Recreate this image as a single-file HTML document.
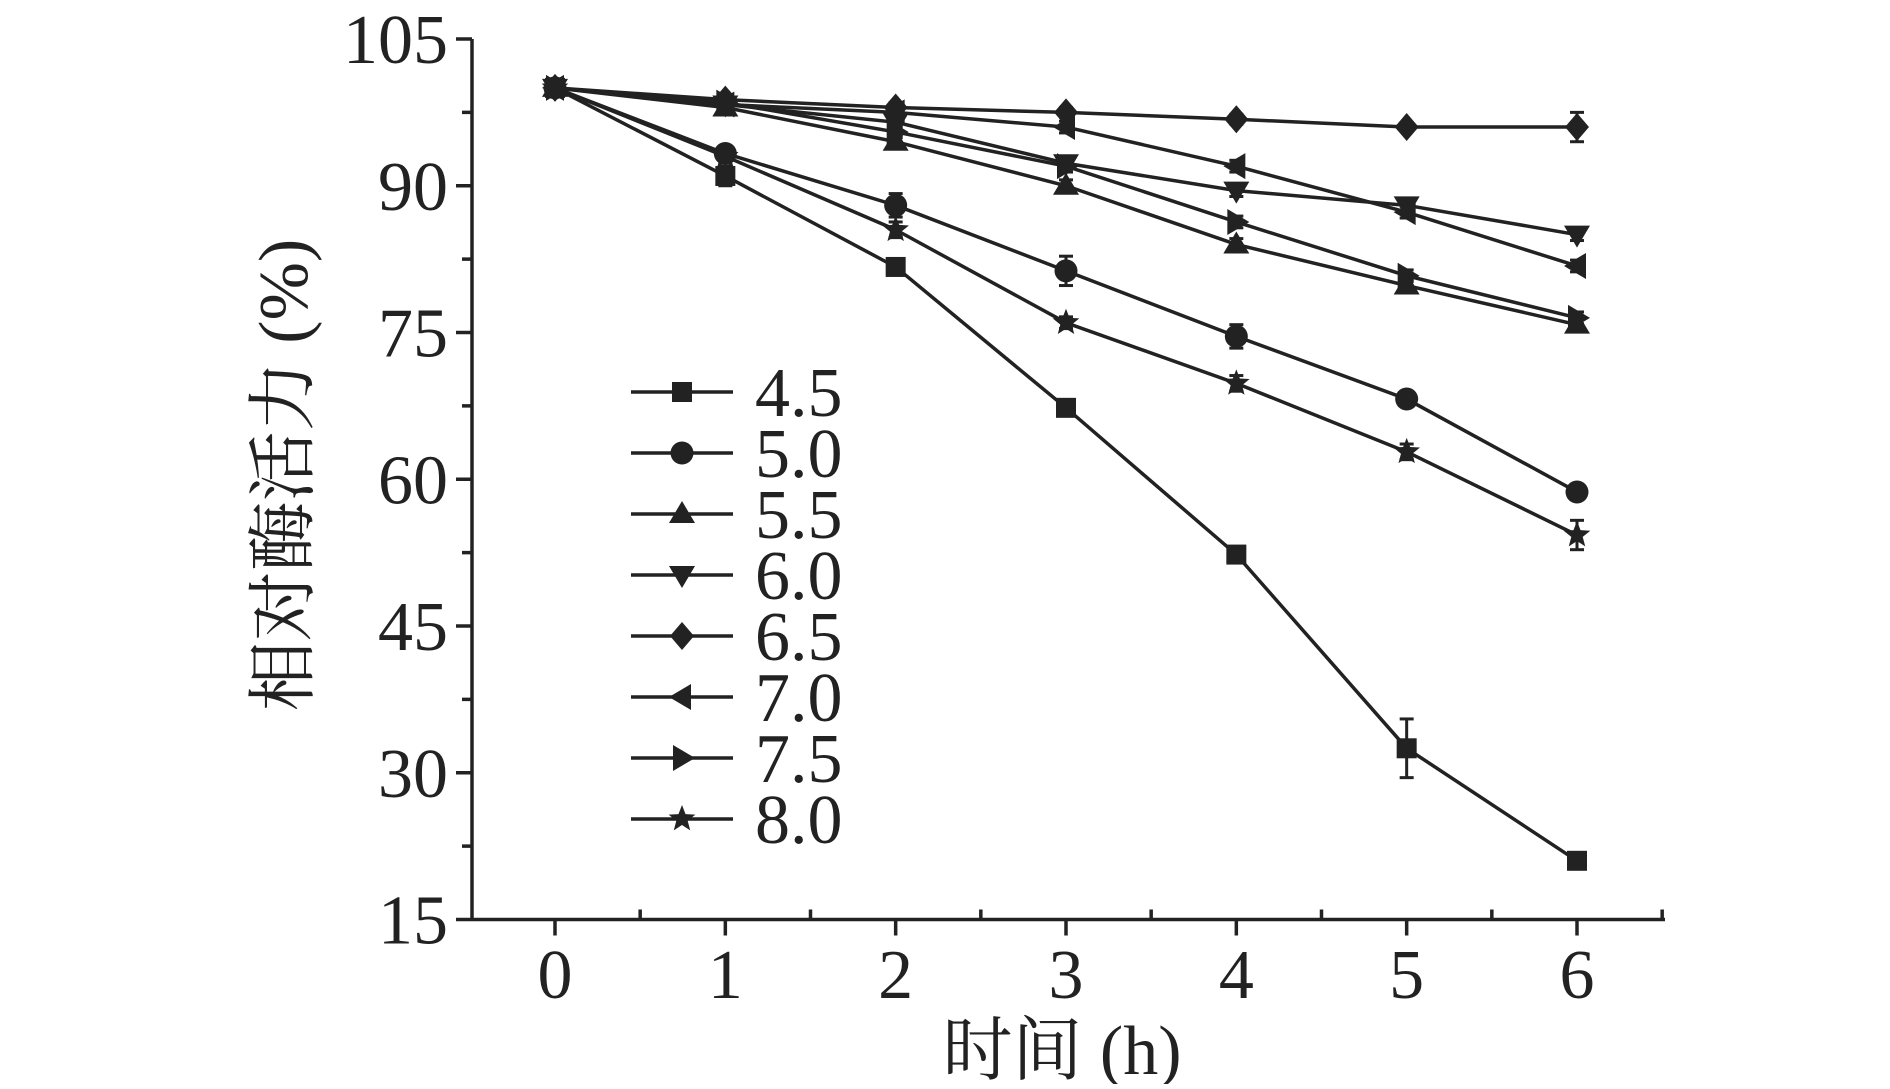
<!DOCTYPE html>
<html><head><meta charset="utf-8"><style>
body{margin:0;background:#fff;}
svg text{font-family:"Liberation Serif","Noto Serif CJK SC",serif;fill:#222;}
</style></head><body>
<svg id="chart" width="1890" height="1084" viewBox="0 0 1890 1084" xmlns="http://www.w3.org/2000/svg"></svg>
<script>
const xValues=[0,1,2,3,4,5,6];
const yTicks=[15,30,45,60,75,90,105];
const seriesNames=["4.5","5.0","5.5","6.0","6.5","7.0","7.5","8.0"];
const s45=[100,91,81.7,67.3,52.3,32.5,21];
const s50=[100,93.3,88,81.3,74.6,68.2,58.7];
const s55=[100,98,94.5,90,84,79.8,75.8];
const s60=[100,98.3,96.5,92.3,89.5,88,85];
const s65=[100,98.8,98,97.5,96.8,96,96];
const s70=[100,98.3,97.5,96,92,87.3,81.8];
const s75=[100,98.5,95.5,92,86.3,80.8,76.5];
const s80=[100,93,85.5,76,69.8,62.8,54.3];
const e45=[0,1,0.8,0.6,0.6,3,0.6];
const e50=[0,0.6,1.2,1.5,1.2,0.5,0.5];
const eOther=[0,0.6,0.6,0.6,0.6,0.6,0.6];
const e65=[0,0.5,0.5,0.5,0.5,0.3,1.5];
const e80=[0,0.5,0.8,0.6,0.8,0.8,1.5];
const allSeries=[s45,s50,s55,s60,s65,s70,s75,s80];
const allErr=[e45,e50,eOther,eOther,e65,eOther,eOther,e80];
const markers=["square","circle","up","down","diamond","left","right","star"];

const NS="http://www.w3.org/2000/svg";
const svg=document.getElementById('chart');
const X0=472,X1=1665,Y0=919.5,Y1=39;
const FS=70;
const xs=v=>555+v*(1577-555)/6;
const ys=v=>Y0-(v-15)*(Y0-Y1)/90;
function mk(tag,attrs,parent){const e=document.createElementNS(NS,tag);for(const k in attrs)e.setAttribute(k,attrs[k]);(parent||svg).appendChild(e);return e;}
const axG=mk('g',{});


mk('line',{x1:X0,y1:Y1,x2:X0,y2:Y0,stroke:'#222','stroke-width':3.5},axG);
mk('line',{x1:X0,y1:Y0,x2:X1,y2:Y0,stroke:'#222','stroke-width':3.5},axG);
for(let i=0;i<yTicks.length;i++){
  const y=ys(yTicks[i]);
  mk('line',{x1:X0-16,y1:y,x2:X0,y2:y,stroke:'#222','stroke-width':3.5},axG);
  if(i<yTicks.length-1){const ym=ys(yTicks[i]+7.5);mk('line',{x1:X0-10,y1:ym,x2:X0,y2:ym,stroke:'#222','stroke-width':3.5},axG);}
  const t=mk('text',{x:X0-24,y:y+24,'text-anchor':'end','font-size':FS},axG);
  
  
  t.textContent=yTicks[i];
}
for(let i=0;i<xValues.length;i++){
  const x=xs(xValues[i]);
  mk('line',{x1:x,y1:Y0,x2:x,y2:Y0+16,stroke:'#222','stroke-width':3.5},axG);
  const xm=xs(xValues[i]+0.5);
  if(xm<X1)mk('line',{x1:xm,y1:Y0-10,x2:xm,y2:Y0,stroke:'#222','stroke-width':3.5},axG);
  const t=mk('text',{x:x,y:998,'text-anchor':'middle','font-size':FS},axG);
  
  
  t.textContent=xValues[i];
}
const xt=mk('text',{x:1062,y:1074,'text-anchor':'middle','font-size':FS});


xt.textContent='时间 (h)';
const yt=mk('text',{x:0,y:0,'text-anchor':'middle','font-size':FS,transform:'translate(307,475) rotate(-90)'});


yt.textContent='相对酶活力 (%)';

function marker(type,x,y,g){
  if(type==='square')return mk('rect',{x:x-10,y:y-10,width:20,height:20,fill:'#222'},g);
  if(type==='circle')return mk('circle',{cx:x,cy:y,r:11.5,fill:'#222'},g);
  let p;
  if(type==='up')p=[[x,y-13],[x+13,y+9],[x-13,y+9]];
  if(type==='down')p=[[x,y+13],[x+13,y-9],[x-13,y-9]];
  if(type==='diamond')p=[[x,y-14],[x+12,y],[x,y+14],[x-12,y]];
  if(type==='left')p=[[x-13,y],[x+9,y-13],[x+9,y+13]];
  if(type==='right')p=[[x+13,y],[x-9,y-13],[x-9,y+13]];
  if(type==='star'){p=[];for(let k=0;k<10;k++){const a=-Math.PI/2+k*Math.PI/5,rr=k%2?6:14;p.push([x+rr*Math.cos(a),y+rr*Math.sin(a)]);}}
  return mk('polygon',{points:p.map(q=>q.join(',')).join(' '),fill:'#222'},g);
}
for(let s=0;s<allSeries.length;s++){
  const g=mk('g',{});
  
  
  const d=allSeries[s];
  mk('polyline',{points:d.map((v,i)=>xs(xValues[i])+','+ys(v)).join(' '),fill:'none',stroke:'#222','stroke-width':3.5},g);
  for(let i=0;i<d.length;i++){
    const x=xs(xValues[i]),e=allErr[s][i];
    if(e>0){const a=ys(d[i]+e),b=ys(d[i]-e);
      mk('line',{x1:x,y1:a,x2:x,y2:b,stroke:'#222','stroke-width':3},g);
      mk('line',{x1:x-7,y1:a,x2:x+7,y2:a,stroke:'#222','stroke-width':3},g);
      mk('line',{x1:x-7,y1:b,x2:x+7,y2:b,stroke:'#222','stroke-width':3},g);}
    const m=marker(markers[s],x,ys(d[i]),g);
    
    
  }
}
const lg=mk('g',{});


for(let s=0;s<seriesNames.length;s++){
  const y=392+s*61;
  const eg=mk('g',{},lg);
  
  
  mk('line',{x1:631,y1:y,x2:733,y2:y,stroke:'#222','stroke-width':3.5},eg);
  marker(markers[s],682,y,eg);
  const t=mk('text',{x:755,y:y+24,'font-size':FS},eg);
  t.textContent=seriesNames[s];
}
</script>
</body></html>
